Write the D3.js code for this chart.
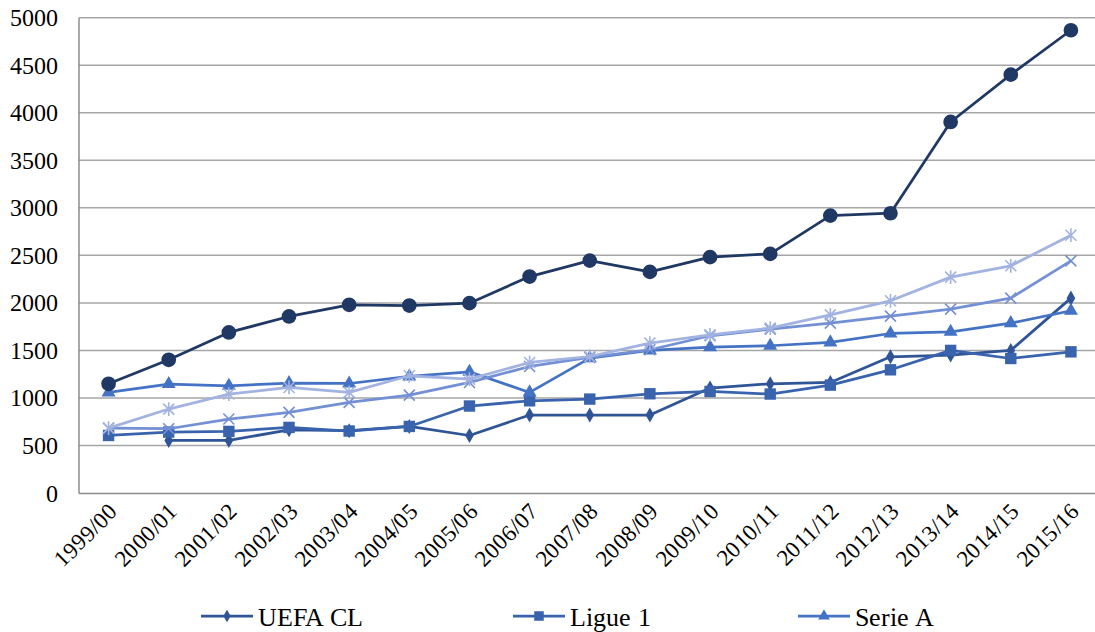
<!DOCTYPE html>
<html>
<head>
<meta charset="utf-8">
<script src="https://cdn.jsdelivr.net/npm/d3@7/dist/d3.min.js"></script>
<style>
  @font-face {
    font-family: "ChartSerif";
    src: local("Liberation Serif"), local("LiberationSerif"), local("LiberationSerif-Regular"),
         local("Times New Roman"), local("Tinos"), local("DejaVu Serif"), local("Noto Serif");
  }
  html, body { margin: 0; padding: 0; background: #fff; }
  svg { display: block; }
  svg text { font-family: "ChartSerif", "Liberation Serif", "Times New Roman", "DejaVu Serif", serif !important; }
</style>
</head>
<body>
<svg id="chart" width="1095" height="632"></svg>
<script>
// Seasons on the category axis
const seasons = ["1999/00","2000/01","2001/02","2002/03","2003/04","2004/05","2005/06","2006/07",
  "2007/08","2008/09","2009/10","2010/11","2011/12","2012/13","2013/14","2014/15","2015/16"];

// Series values (null = no value for that season)
const uefaCL   = [null, 553, 553, 665, 655, 700, 605, 820, 820, 820, 1104, 1149, 1163, 1433, 1451, 1500, 2050];
const ligue1   = [605, 641, 648, 690, 652, 700, 915, 970, 988, 1044, 1068, 1041, 1135, 1296, 1500, 1415, 1485];
const serieA   = [1058, 1146, 1128, 1156, 1152, 1226, 1275, 1058, 1419, 1500, 1535, 1549, 1584, 1678, 1696, 1787, 1917];
const series4  = [683, 676, 778, 848, 953, 1030, 1163, 1331, 1426, 1507, 1654, 1724, 1787, 1861, 1934, 2050, 2442];
const series5  = [683, 883, 1041, 1110, 1058, 1233, 1198, 1373, 1436, 1577, 1664, 1735, 1874, 2022, 2271, 2390, 2712];
const series6  = [1149, 1401, 1689, 1857, 1980, 1972, 1997, 2277, 2445, 2326, 2481, 2516, 2918, 2943, 3903, 4401, 4868];

const yTicks = [0, 500, 1000, 1500, 2000, 2500, 3000, 3500, 4000, 4500, 5000];

const series = [
  { name: "UEFA CL", values: uefaCL,  color: "#2F5597", marker: "diamond",  legend: true },
  { name: "Ligue 1", values: ligue1,  color: "#3A63AE", marker: "square",   legend: true },
  { name: "Serie A", values: serieA,  color: "#4472C4", marker: "triangle", legend: true },
  { name: "",        values: series4, color: "#7390D5", marker: "x",        legend: false },
  { name: "",        values: series5, color: "#A3B3E1", marker: "star",     legend: false },
  { name: "",        values: series6, color: "#203864", marker: "circle",   legend: false }
];

const FONT = "Liberation Serif";

const svg = d3.select("#chart");
const plotLeft = 78.5, plotRight = 1101, plotTop = 17.7, plotBottom = 493;

const x = d3.scaleBand().domain(seasons).range([plotLeft, plotRight]);
const xc = d => x(d) + x.bandwidth() / 2;
const y = d3.scaleLinear().domain([0, 5000]).range([plotBottom, plotTop]);

// Horizontal gridlines
svg.append("g")
  .selectAll("line")
  .data(yTicks.filter(t => t > 0))
  .join("line")
  .attr("x1", plotLeft).attr("x2", plotRight)
  .attr("y1", d => y(d)).attr("y2", d => y(d))
  .attr("stroke", "#A6A6A6").attr("stroke-width", 1.5);

// Y axis
const yAxis = svg.append("g")
  .attr("transform", `translate(${plotLeft},0)`)
  .call(d3.axisLeft(y).tickValues(yTicks).tickSize(0).tickPadding(21).tickFormat(d3.format("d")));
yAxis.attr("font-family", FONT).attr("font-size", 23.5);
yAxis.select(".domain").attr("stroke", "#8C8C8C").attr("stroke-width", 1.5);
yAxis.selectAll("text")
  .attr("font-family", FONT).attr("font-size", 23.5)
  .attr("fill", "#000").attr("dy", "0.34em");

// X axis
const xAxis = svg.append("g")
  .attr("transform", `translate(0,${plotBottom})`)
  .call(d3.axisBottom(x).tickSize(0).tickPadding(0));
xAxis.attr("font-family", FONT).attr("font-size", 23);
xAxis.select(".domain").attr("stroke", "#8C8C8C").attr("stroke-width", 1.5);
xAxis.selectAll("text")
  .attr("font-family", FONT).attr("font-size", 23)
  .attr("fill", "#000")
  .attr("text-anchor", "end")
  .attr("dy", 0).attr("y", 0)
  .attr("transform", "translate(10,20) rotate(-45)");

// Marker shapes
function markerPath(type, s) {
  switch (type) {
    case "diamond":  return d3.symbol(d3.symbolDiamond, 65 * s)();
    case "square":   return d3.symbol(d3.symbolSquare, 130 * s)();
    case "triangle": return d3.symbol(d3.symbolTriangle, 85 * s)();
    case "circle":   return d3.symbol(d3.symbolCircle, 170 * s)();
    case "x":        { const r = 5.5 * Math.sqrt(s); return `M${-r},${-r}L${r},${r}M${-r},${r}L${r},${-r}`; }
    case "star":     { const r = 5.5 * Math.sqrt(s); return `M${-r},${-r}L${r},${r}M${-r},${r}L${r},${-r}M0,${-r * 1.25}L0,${r * 1.25}`; }
  }
}
const stroked = t => t === "x" || t === "star";

const line = d3.line()
  .defined(d => d.v != null)
  .x(d => xc(d.s))
  .y(d => y(d.v));

series.forEach(sr => {
  const pts = seasons.map((s, i) => ({ s, v: sr.values[i] }));
  const g = svg.append("g");
  g.append("path")
    .datum(pts)
    .attr("d", line)
    .attr("fill", "none")
    .attr("stroke", sr.color)
    .attr("stroke-width", 2.75)
    .attr("stroke-linejoin", "round");
  g.selectAll("path.m")
    .data(pts.filter(d => d.v != null))
    .join("path")
    .attr("class", "m")
    .attr("transform", d => `translate(${xc(d.s)},${y(d.v)})`)
    .attr("d", markerPath(sr.marker, 1))
    .attr("fill", stroked(sr.marker) ? "none" : sr.color)
    .attr("stroke", sr.color)
    .attr("stroke-width", stroked(sr.marker) ? 1.6 : 0);
});

// Legend
const legendItems = series.filter(s => s.legend);
const legendX = [201, 513, 798];
const legendY = 616;
const lg = svg.append("g");
legendItems.forEach((sr, i) => {
  const gx = legendX[i];
  lg.append("line")
    .attr("x1", gx).attr("x2", gx + 52)
    .attr("y1", legendY).attr("y2", legendY)
    .attr("stroke", sr.color).attr("stroke-width", 2.75);
  lg.append("path")
    .attr("transform", `translate(${gx + 26},${legendY})`)
    .attr("d", markerPath(sr.marker, 0.7))
    .attr("fill", sr.color);
  lg.append("text")
    .attr("x", gx + 57).attr("y", legendY + 9.5)
    .attr("font-family", FONT).attr("font-size", 26)
    .attr("fill", "#000")
    .text(sr.name);
});
</script>
</body>
</html>
